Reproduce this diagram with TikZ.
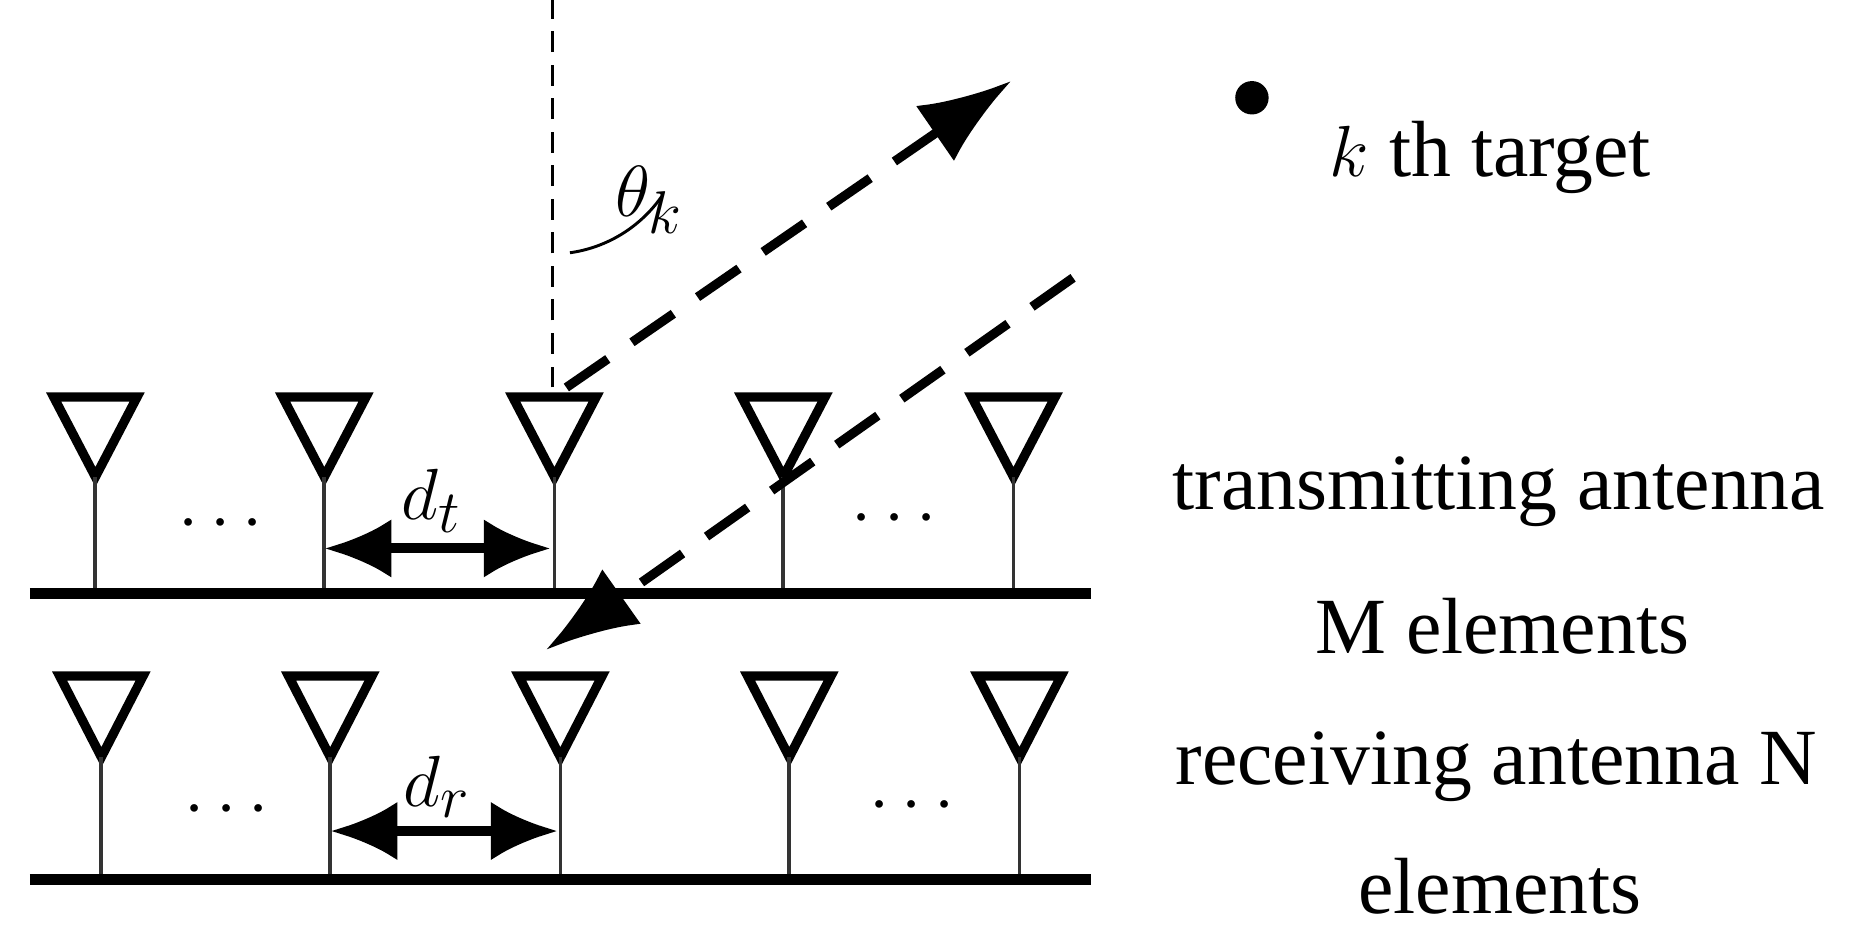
\documentclass[tikz,border=0pt]{standalone}
\usepackage{fontspec}
\setmainfont{Liberation Serif}
\usetikzlibrary{arrows.meta}
\begin{document}
\begin{tikzpicture}[x=0.01cm,y=-0.01cm,
  ant/.style={line width=2.2pt},
  stem/.style={line width=0.9pt,black!80},
  gnd/.style={line width=2.6pt},
  lbl/.style={font=\fontsize{19}{22}\selectfont},
  dsh/.style={line width=2.2pt,dash pattern=on 12pt off 7pt,-{Latex[length=22pt,width=16pt]}},
  dbl/.style={line width=2.4pt,{Latex[length=16pt,width=14pt]}-{Latex[length=16pt,width=14pt]}}]
\useasboundingbox (0,0) rectangle (1560,779);
% transmit
\foreach \x/\n in {80/t1,272/t2,465/t3,657/t4,850/t5}{
  \draw[ant,line join=miter] (\x-35,333) -- (\x+35,333) -- (\x,400) -- cycle;
  \draw[stem] (\x,400) -- (\x,496);
  \coordinate (\n) at (\x,400);
}
\draw[gnd] (25,498) -- (915,498);
\foreach \x/\n in {85/r1,277/r2,470/r3,662/r4,855/r5}{
  \draw[ant,line join=miter] (\x-35,567) -- (\x+35,567) -- (\x,635) -- cycle;
  \draw[stem] (\x,635) -- (\x,736);
  \coordinate (\n) at (\x,635);
}
\draw[gnd] (25,738) -- (915,738);
\node[lbl] (dots1) at (185,440) {$\cdots$};
\node[lbl] (dots2) at (750,436) {$\cdots$};
\node[lbl] (dots3) at (190,680) {$\cdots$};
\node[lbl] (dots4) at (765,676) {$\cdots$};
\coordinate (dta) at (272,460); \coordinate (dtb) at (462,460);
\draw[dbl] (dta) -- (dtb);
\node[lbl] (dt) at (362,420) {$d_t$};
\coordinate (dra) at (277,697); \coordinate (drb) at (468,697);
\draw[dbl] (dra) -- (drb);
\node[lbl] (dr) at (367,660) {$d_r$};
% geometry
\coordinate (o) at (463,325);
\draw[line width=0.7pt,dash pattern=on 5pt off 3pt] (o) -- (463,0);
\coordinate (tx) at (475,325); \coordinate (txe) at (848,68);
\draw[dsh] (tx) -- (txe);
\draw[line width=0.7pt] (478,212) arc[start angle=82,end angle=35,radius=113];
\node[lbl] (th) at (545,168) {$\theta_k$};
\coordinate (rxs) at (900,233); \coordinate (rxe) at (458,545);
\draw[dsh] (rxs) -- (rxe);
\node[circle,fill=black,inner sep=0pt,minimum size=28\pgflinewidth*0+0.28cm] (tgt) at (1050,82) {};
\node[lbl] (tl) at (1250,132) {$k$ th target};
\node[lbl] (l1) at (1257,412) {transmitting antenna};
\node[lbl] (l2) at (1260,525) {M elements};
\node[lbl] (l3) at (1255,643) {receiving antenna N};
\node[lbl] (l4) at (1258,743) {elements};
\end{tikzpicture}
\end{document}
